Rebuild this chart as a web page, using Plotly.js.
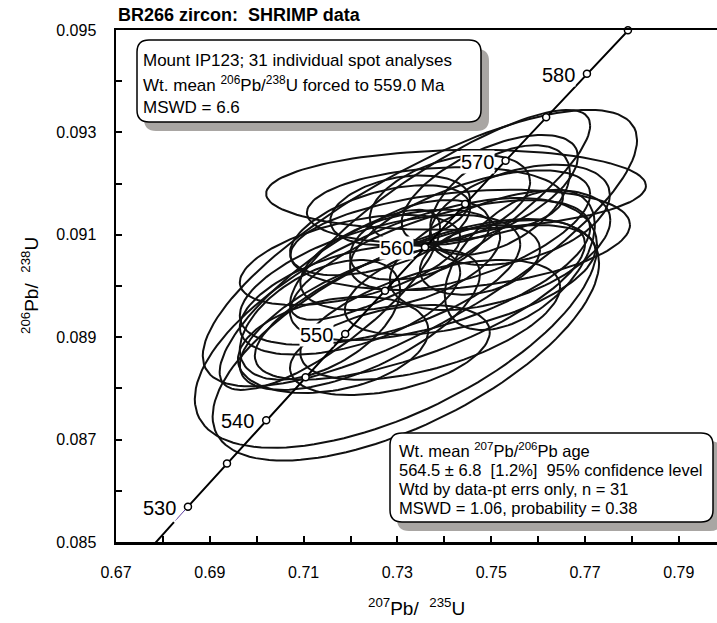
<!DOCTYPE html>
<html>
<head>
<meta charset="utf-8">
<script src="https://cdn.plot.ly/plotly-3.0.1.min.js"></script>
<style>html,body{margin:0;padding:0;background:#fff;}#chart{width:717px;height:623px;}</style>
</head>
<body>
<div id="chart"></div>
<script>
// ---- data ----
// 207Pb/235U centres of the 2-sigma error ellipses
const ratio207_235 = [0.7425,0.7348,0.7297,0.7318,0.7391,0.7163,0.7380,0.7497,0.7348,0.7455,0.7263,0.7199,0.7306,0.7391,0.7220,0.7519,0.7412,0.7263,0.7135,0.7455,0.7348,0.7561,0.7306,0.7476,0.7199,0.7370,0.7519,0.7561,0.7284,0.7434,0.7156];
// 206Pb/238U centres
const ratio206_238 = [0.09188,0.09074,0.08928,0.08895,0.09139,0.08885,0.09158,0.09188,0.09090,0.09109,0.09012,0.08973,0.09051,0.09031,0.08934,0.09070,0.09168,0.09109,0.08934,0.09012,0.08973,0.09139,0.09148,0.09051,0.09051,0.08934,0.09168,0.09051,0.08875,0.09090,0.08973];
// 2-sigma half-widths
const err207_235 = [0.0405,0.0463,0.0429,0.0412,0.0320,0.0203,0.0273,0.0188,0.0149,0.0256,0.0299,0.0235,0.0213,0.0320,0.0256,0.0235,0.0171,0.0192,0.0171,0.0267,0.0352,0.0192,0.0149,0.0128,0.0235,0.0277,0.0149,0.0160,0.0213,0.0362,0.0235];
const err206_238 = [0.00078,0.00270,0.00244,0.00236,0.00205,0.00094,0.00074,0.00107,0.00078,0.00117,0.00127,0.00107,0.00098,0.00137,0.00137,0.00117,0.00088,0.00088,0.00117,0.00107,0.00156,0.00098,0.00068,0.00068,0.00088,0.00117,0.00107,0.00137,0.00088,0.00098,0.00176];
// error correlations
const errCorr = [0.10,0.78,0.61,0.635,0.85,0.30,0.20,0.60,0.40,0.60,0.55,0.50,0.45,0.60,0.65,0.50,0.40,0.50,0.50,0.55,0.70,0.40,0.30,0.30,0.50,0.55,0.50,0.50,0.40,0.30,0.80];

// concordia age marks (Ma) and labelled ages
const markAges = [530,535,540,545,550,555,560,565,570,575,580,585];
const labelAges = [530,540,550,560,570,580];
const curveAgeRange = [520, 592];
const purpleAgeRange = [528.4, 530];

// axis ticks
const xTickVals = [0.67,0.69,0.71,0.73,0.75,0.77,0.79];
const xMinorVals = [0.68,0.70,0.72,0.74,0.76,0.78];
const yTickVals = [0.085,0.087,0.089,0.091,0.093,0.095];
const yMinorVals = [0.086,0.088,0.090,0.092,0.094];

// ---- concordia (decay constants, per Ma) ----
const L238 = 1.55125e-4, L235 = 9.8485e-4;
function conc(t){ return [Math.exp(L235*t)-1, Math.exp(L238*t)-1]; }

const FONT = 'Liberation Sans, Arial, Helvetica, sans-serif';

// ellipse outlines
const ex = [], ey = [];
for (let i = 0; i < ratio207_235.length; i++) {
  const cx = ratio207_235[i], cy = ratio206_238[i];
  const hx = err207_235[i], hy = err206_238[i], r = errCorr[i];
  const s = Math.sqrt(1 - r*r);
  for (let k = 0; k <= 120; k++) {
    const a = 2*Math.PI*k/120;
    ex.push(cx + hx*Math.cos(a));
    ey.push(cy + hy*(r*Math.cos(a) + s*Math.sin(a)));
  }
  ex.push(null); ey.push(null);
}

// concordia curve (black, with a short thin purple stretch just below 530 Ma as in the reference)
function curve(t0, t1, skip0, skip1){
  const xs = [], ys = [];
  for (let t = t0; t <= t1 + 1e-9; t += 0.2) {
    if (skip0 !== undefined && t > skip0 && t < skip1) { if (xs[xs.length-1] !== null) { xs.push(null); ys.push(null); } continue; }
    const p = conc(t); xs.push(p[0]); ys.push(p[1]);
  }
  return [xs, ys];
}
const blk = curve(curveAgeRange[0], curveAgeRange[1], purpleAgeRange[0], purpleAgeRange[1]);
const pur = curve(purpleAgeRange[0], purpleAgeRange[1]);
const mx = markAges.map(t => conc(t)[0]);
const my = markAges.map(t => conc(t)[1]);

const traces = [
  {x: ex, y: ey, mode: 'lines', line: {color: '#111', width: 2}, hoverinfo: 'skip', showlegend: false, connectgaps: false},
  {x: blk[0], y: blk[1], mode: 'lines', line: {color: '#000', width: 2}, hoverinfo: 'skip', showlegend: false, connectgaps: false},
  {x: pur[0], y: pur[1], mode: 'lines', line: {color: '#5b3c9e', width: 1}, hoverinfo: 'skip', showlegend: false},
  {x: mx, y: my, mode: 'markers', cliponaxis: false,
   marker: {size: 7, color: '#fff', line: {color: '#000', width: 1.5}}, hoverinfo: 'skip', showlegend: false}
];

// ---- layout helpers (pixel -> paper) ----
const PL = 116, PT = 30, PW = 601, PH = 512;
function px(x){ return (x - PL)/PW; }
function py(y){ return (PT + PH - y)/PH; }
function roundRect(x0, y0, x1, y1, r){
  const rx = r/PW, ry = r/PH;
  const X0 = px(x0), X1 = px(x1), Y0 = py(y0), Y1 = py(y1);
  return `M ${X0+rx},${Y0} L ${X1-rx},${Y0} Q ${X1},${Y0} ${X1},${Y0-ry} L ${X1},${Y1+ry} Q ${X1},${Y1} ${X1-rx},${Y1} L ${X0+rx},${Y1} Q ${X0},${Y1} ${X0},${Y1+ry} L ${X0},${Y0-ry} Q ${X0},${Y0} ${X0+rx},${Y0} Z`;
}
const shadowCol = '#a9a6a3';
const shapes = [
  {type: 'path', xref: 'paper', yref: 'paper', layer: 'above', path: roundRect(144, 49, 489, 131, 12), fillcolor: shadowCol, line: {width: 0}},
  {type: 'path', xref: 'paper', yref: 'paper', layer: 'above', path: roundRect(137, 40, 481, 122, 12), fillcolor: '#fff', line: {color: '#000', width: 1.5}},
  {type: 'path', xref: 'paper', yref: 'paper', layer: 'above', path: roundRect(397, 441, 722, 531, 12), fillcolor: shadowCol, line: {width: 0}},
  {type: 'path', xref: 'paper', yref: 'paper', layer: 'above', path: roundRect(390, 433, 713, 522, 12), fillcolor: '#fff', line: {color: '#000', width: 1.5}}
];

const annotations = [];
function txt(text, x, y, size, extra){
  annotations.push(Object.assign({text: text, xref: 'paper', yref: 'paper', x: px(x), y: py(y),
    xanchor: 'left', yanchor: 'middle', showarrow: false, font: {family: FONT, size: size, color: '#000'}}, extra || {}));
}
// box 1
txt('Mount IP123; 31 individual spot analyses', 141, 60, 17);
txt('Wt. mean <sup>206</sup>Pb/<sup>238</sup>U forced to 559.0 Ma', 141, 84, 17);
txt('MSWD = 6.6', 141, 107, 17);
// box 2
txt('Wt. mean <sup>207</sup>Pb/<sup>206</sup>Pb age', 397, 450, 16.5);
txt('564.5 \u00b1 6.8 \u00a0[1.2%] \u00a095% confidence level', 397, 470, 16.5);
txt('Wtd by data-pt errs only, n = 31', 397, 489, 16.5);
txt('MSWD = 1.06, probability = 0.38', 397, 508, 16.5);
// axis titles
annotations.push({text: '<sup>207</sup>Pb/ \u00a0<sup>235</sup>U', xref: 'paper', yref: 'paper', x: 0.5, y: py(607),
  xanchor: 'center', yanchor: 'middle', showarrow: false, font: {family: FONT, size: 19, color: '#000'}});
annotations.push({text: '<sup>206</sup>Pb/ \u00a0<sup>238</sup>U', xref: 'paper', yref: 'paper', x: px(30), y: 0.5, textangle: -90,
  xanchor: 'center', yanchor: 'middle', showarrow: false, font: {family: FONT, size: 19, color: '#000'}});
// concordia age labels
labelAges.forEach(t => {
  const p = conc(t);
  annotations.push({text: String(t), x: p[0], y: p[1], xref: 'x', yref: 'y', xanchor: 'right', yanchor: 'middle',
    xshift: -11, yshift: -1, showarrow: false, bgcolor: t === 540 ? 'rgba(0,0,0,0)' : '#fff', borderpad: 0,
    font: {family: FONT, size: 20, color: '#000'}});
});

const tickStyle = {ticks: 'inside', ticklen: 6, tickwidth: 2, tickcolor: '#000', showgrid: false};
const layout = {
  width: 717, height: 623,
  margin: {l: PL, r: 0, t: PT, b: 623 - PT - PH, pad: 0},
  paper_bgcolor: '#fff', plot_bgcolor: '#fff',
  title: {text: '<b>BR266 zircon: \u00a0SHRIMP data</b>', xref: 'container', yref: 'container',
    x: 118/717, xanchor: 'left', y: 1 - 15/623, yanchor: 'middle',
    font: {family: FONT, size: 18, color: '#000'}},
  xaxis: Object.assign({range: [0.67, 0.67 + 601/4690], zeroline: false, showline: true, mirror: true,
    linecolor: '#000', linewidth: 2.5, tickvals: xTickVals, tickformat: '.2f',
    minor: Object.assign({tickvals: xMinorVals}, tickStyle),
    tickfont: {family: FONT, size: 16, color: '#000'}, ticklabelstandoff: 14}, tickStyle),
  yaxis: Object.assign({range: [0.085, 0.095], zeroline: false, showline: true, mirror: false,
    linecolor: '#000', linewidth: 2.5, tickvals: yTickVals, tickformat: '.3f',
    minor: Object.assign({tickvals: yMinorVals}, tickStyle),
    tickfont: {family: FONT, size: 16, color: '#000'}, ticklabelstandoff: 14}, tickStyle),
  shapes: shapes,
  annotations: annotations,
  showlegend: false
};

Plotly.newPlot('chart', traces, layout, {staticPlot: true, displayModeBar: false});
</script>
</body>
</html>
